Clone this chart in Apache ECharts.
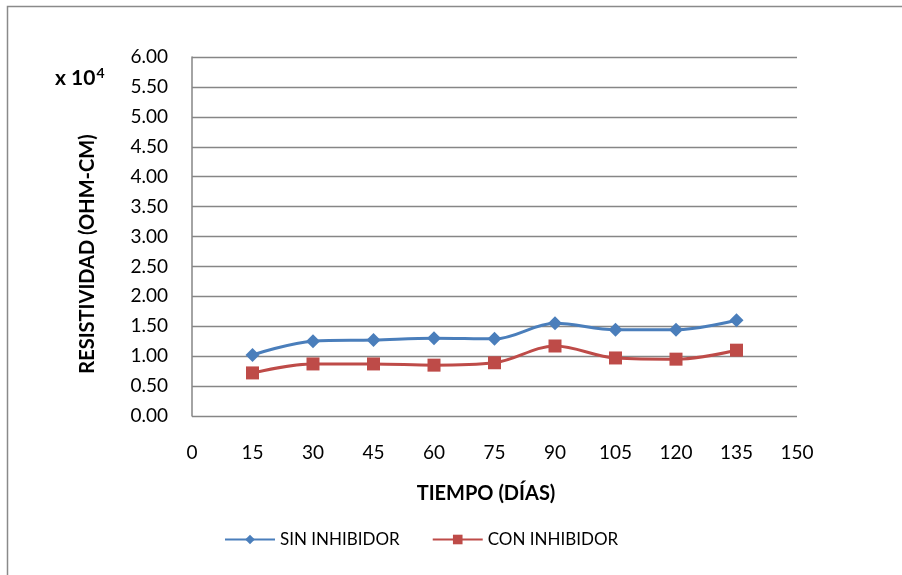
<!DOCTYPE html>
<html>
<head>
<meta charset="utf-8">
<script src="https://cdn.jsdelivr.net/npm/echarts@6/dist/echarts.min.js"></script>
<style>
html,body{margin:0;padding:0;background:#fff;}
#c{width:902px;height:575px;}
</style>
</head>
<body>
<div id="c"></div>
<script>
const days = [15, 30, 45, 60, 75, 90, 105, 120, 135];
const sinInhibidor = [1.02, 1.25, 1.27, 1.30, 1.29, 1.55, 1.44, 1.44, 1.60];
const conInhibidor = [0.72, 0.87, 0.87, 0.85, 0.89, 1.17, 0.97, 0.95, 1.10];
const seriesNames = ['SIN INHIBIDOR', 'CON INHIBIDOR'];
const xTitle = 'TIEMPO (DÍAS)';
const yTitle = 'RESISTIVIDAD (OHM-CM)';

const FONT = 'Lato, "Open Sans", sans-serif';
const chart = echarts.init(document.getElementById('c'));
const pair = (xs, ys) => xs.map((x, i) => [x, ys[i]]);
const titleStyle = { fontSize: 20, fontWeight: 'bold', fontFamily: FONT, fill: '#000', align: 'center', verticalAlign: 'middle' };

chart.setOption({
  animation: false,
  backgroundColor: '#fff',
  textStyle: { fontFamily: FONT },
  grid: { left: 192, right: 105, top: 57, bottom: 159 },
  xAxis: {
    type: 'value', min: 0, max: 150, interval: 15,
    axisLine: { show: false }, axisTick: { show: false },
    splitLine: { show: false },
    axisLabel: { color: '#000', fontSize: 19, fontFamily: FONT, margin: 27 }
  },
  yAxis: {
    type: 'value', min: 0, max: 6, interval: 0.5,
    axisLine: { show: true, lineStyle: { color: '#868686', width: 1.5 } },
    axisTick: { show: false },
    splitLine: { show: true, lineStyle: { color: '#868686', width: 1.3 } },
    axisLabel: { color: '#000', fontSize: 19, fontFamily: FONT, margin: 24, formatter: v => v.toFixed(2) }
  },
  legend: {
    bottom: 22, left: 219, itemWidth: 50, itemHeight: 12, itemGap: 32,
    textStyle: { color: '#000', fontSize: 17, fontFamily: FONT },
    data: seriesNames
  },
  graphic: [
    { type: 'rect', shape: { x: 7.5, y: 6.5, width: 1000, height: 1000 }, style: { fill: 'none', stroke: '#8a8a8a', lineWidth: 1.5 }, silent: true },
    { type: 'text', left: 55, top: 66, style: { rich: { b: { fontSize: 21, fontWeight: 'bold', fontFamily: FONT, fill: '#000' }, s: { fontSize: 14, fontWeight: 'bold', fontFamily: FONT, fill: '#000', verticalAlign: 'top', padding: [0,0,10,1] } }, text: '{b|x 10}{s|4}' } },
    { type: 'text', x: 486, y: 494, style: Object.assign({ text: xTitle }, titleStyle) },
    { type: 'text', x: 88, y: 254, rotation: Math.PI / 2, style: Object.assign({ text: yTitle }, titleStyle) }
  ],
  series: [
    { name: seriesNames[0], type: 'line', smooth: 0.35, data: pair(days, sinInhibidor),
      symbol: 'diamond', symbolSize: 14, color: '#4A7EBB', lineStyle: { width: 3, color: '#4A7EBB' }, itemStyle: { color: '#4A7EBB' } },
    { name: seriesNames[1], type: 'line', smooth: 0.35, data: pair(days, conInhibidor),
      symbol: 'rect', symbolSize: 13, color: '#BE4B48', lineStyle: { width: 3, color: '#BE4B48' }, itemStyle: { color: '#BE4B48' } }
  ]
});
</script>
</body>
</html>
